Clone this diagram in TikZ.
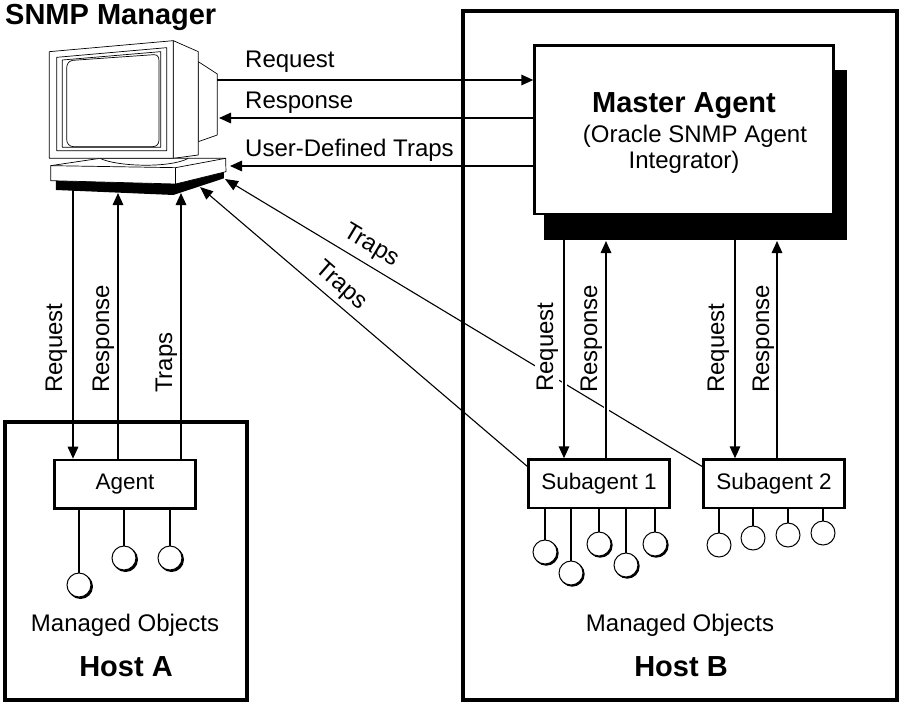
\documentclass[tikz,border=0pt]{standalone}
\usepackage{fontspec}
\setmainfont{Liberation Sans}
\usetikzlibrary{arrows.meta}
\tikzset{
 host/.style={draw,line width=4pt,fill=white,inner sep=0pt,anchor=north west},
 boxnode/.style={draw,line width=2.6pt,fill=white,inner sep=0pt,anchor=north west,font=\fontsize{22.5}{25}\selectfont},
 lbl/.style={inner sep=0pt,font=\fontsize{24}{27}\selectfont},
 vlbl/.style={lbl,rotate=90,anchor=base west},
 big/.style={inner sep=0pt,font=\fontsize{29}{32}\bfseries\selectfont},
 conn/.style={line width=1.6pt,-{Triangle[length=12pt,width=10.5pt]}},
 halo/.style={preaction={draw=white,line width=5pt,-}},
 thin conn/.style={line width=1.1pt,-{Triangle[length=13pt,width=10.5pt]}},
 stem/.style={line width=1.5pt},
 obj/.style={circle,draw,line width=1pt,fill=white,minimum size=24pt,inner sep=0pt},
 mon/.style={line width=0.7pt,line join=round},
}
\begin{document}
\begin{tikzpicture}[x=1pt,y=-1pt]
\useasboundingbox (0,0) rectangle (899,702);
% hosts
\node[host,minimum width=242pt,minimum height=277.7pt] (hosta) at (2.7,420) {};
\node[host,minimum width=434pt,minimum height=688.7pt] (hostb) at (461,9) {};
% master agent
\fill (544,70) rectangle (847,240);
\node[draw,line width=2.6pt,fill=white,anchor=north west,minimum width=299pt,minimum height=168.7pt,inner sep=0pt] (master) at (533.3,44) {};
\node[big,anchor=base] (mastertitle) at (684,112) {Master Agent};
\node[lbl,anchor=base] (mastersub1) at (695,142) {(Oracle SNMP Agent};
\node[lbl,anchor=base] (mastersub2) at (684,168) {Integrator)};
% monitor, drawn in zoom units
\begin{scope}[shift={(30,0)},x=0.3333pt,y=-0.3333pt]
 \fill (78,540) -- (430,552) -- (582,515) -- (582,535) -- (430,585) -- (78,570) -- cycle;
 \draw[mon,fill=white] (505,185) -- (562,222) -- (562,405) -- (505,425) -- cycle;
 \draw[mon,fill=white] (430,122) -- (505,155) -- (505,465) -- (430,475) -- cycle;
 \draw[mon,fill=white] (62,497) -- (210,475) -- (475,475) -- (587,475) -- (588,515) -- (437,552) -- (62,542) -- cycle;
 \draw[mon] (62,497) -- (437,503) -- (587,475);
 \draw[mon] (437,503) -- (437,552);
 \draw[mon] (210,475) .. controls (260,500) and (420,505) .. (475,475);
 \draw[mon,fill=white] (58,155) -- (430,122) -- (430,475) -- (58,475) -- cycle;
 \draw[mon,fill=white] (80,172) -- (410,143) -- (410,452) -- (80,452) -- cycle;
 \draw[mon] (97,180) -- (392,155) -- (392,442) -- (97,442) -- cycle;
 \draw[mon] (128,181) -- (372,164) .. controls (384,164) and (387,172) .. (387,184) -- (387,420) .. controls (387,432) and (380,440) .. (368,440) -- (130,440) .. controls (118,440) and (110,430) .. (110,418) -- (110,205) .. controls (110,192) and (116,183) .. (128,181) -- cycle;
\end{scope}
\coordinate (monright) at (217,80);
\coordinate (monresp) at (219,118);
\coordinate (monuser) at (230,166);
\coordinate (basereq) at (73,190);
\coordinate (baseresp) at (118,193);
\coordinate (basetraps) at (181,193);
\coordinate (trapa) at (200,187);
\coordinate (trapb) at (225,179);
\node[big,anchor=base west] (mgr) at (5,24) {SNMP Manager};
% agents
\node[boxnode,minimum width=140.8pt,minimum height=48.7pt] (agent) at (53.3,458.7) {Agent};
\node[boxnode,minimum width=140.8pt,minimum height=48.4pt] (sub1) at (527.3,458.3) {Subagent 1};
\node[boxnode,minimum width=140.8pt,minimum height=48.4pt] (sub2) at (702.3,458.3) {Subagent 2};
% top arrows
\coordinate (mreq) at (master.west |- monright);
\coordinate (mresp) at (master.west |- monresp);
\coordinate (muser) at (master.west |- monuser);
\draw[conn] (monright) -- (mreq);
\draw[conn] (mresp) -- (monresp);
\draw[conn] (muser) -- (monuser);
\node[lbl,anchor=base west] (t1) at (245,67) {Request};
\node[lbl,anchor=base west] (t2) at (245,108) {Response};
\node[lbl,anchor=base west] (t3) at (245,156) {User-Defined Traps};
% host A arrows
\draw[conn] (basereq) -- (basereq |- agent.north);
\draw[conn] (baseresp |- agent.north) -- (baseresp);
\draw[conn] (basetraps |- agent.north) -- (basetraps);
\node[vlbl] (v1) at (62,393) {Request};
\node[vlbl] (v2) at (109,393) {Response};
\node[vlbl] (v3) at (172,393) {Traps};
% traps
\coordinate (s1c) at (528,467);
\coordinate (s2c) at (703,467);
\draw[thin conn] (s1c) -- (trapa);
\draw[thin conn] (s2c) -- (trapb);
\node[lbl,rotate=-41] (tr1) at (341,286) {Traps};
\node[lbl,rotate=-31] (tr2) at (371,246) {Traps};
% host B arrows
\coordinate (m1) at (564,240);
\coordinate (m2) at (606,241);
\coordinate (m3) at (735,240);
\coordinate (m4) at (777,241);
\node[vlbl,fill=white,inner sep=1pt] (v4) at (553,393) {Request};
\node[vlbl] (v5) at (597,393) {Response};
\node[vlbl] (v6) at (724,393) {Request};
\node[vlbl] (v7) at (769,393) {Response};
\draw[conn,halo] (m1) -- (m1 |- sub1.north);
\draw[conn,halo] (m2 |- sub1.north) -- (m2);
\draw[conn] (m3) -- (m3 |- sub2.north);
\draw[conn] (m4 |- sub2.north) -- (m4);
% managed objects of Agent
\foreach \n/\x/\y in {a1/79/585,a2/124/558,a3/170/558}{
 \fill (\x+1.5,\y+1.5) circle (12.5pt);
 \node[obj] (\n) at (\x,\y) {};
 \draw[stem] (\n.north |- agent.south) -- (\n.north);
}
\foreach \n/\x/\y in {b1/545/552,b2/571/573,b3/599/544,b4/626/565,b5/655/544}{
 \fill (\x+1.2,\y+1.2) circle (12.5pt);
 \node[obj] (\n) at (\x,\y) {};
 \draw[stem] (\n.north |- sub1.south) -- (\n.north);
}
\foreach \n/\x/\y in {c1/719/545,c2/753/538,c3/788/535,c4/823/533}{
 \node[obj] (\n) at (\x,\y) {};
 \draw[stem] (\n.north |- sub2.south) -- (\n.north);
}
\node[lbl,anchor=base] (mo1) at (125,631) {Managed Objects};
\node[lbl,anchor=base] (mo2) at (680,631) {Managed Objects};
\node[big,anchor=base] (ha) at (126,676) {Host A};
\node[big,anchor=base] (hb) at (681,676) {Host B};
\end{tikzpicture}
\end{document}
